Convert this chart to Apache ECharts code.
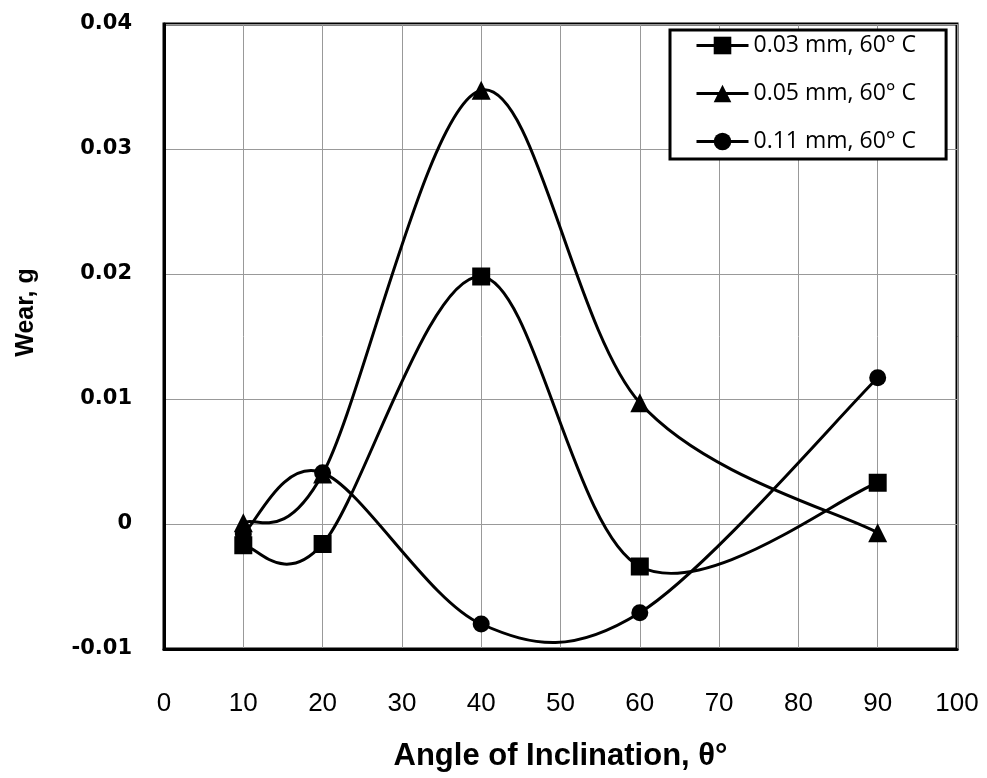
<!DOCTYPE html>
<html>
<head>
<meta charset="utf-8">
<script src="https://cdn.jsdelivr.net/npm/echarts@6/dist/echarts.min.js"></script>
<style>
  html, body { margin: 0; padding: 0; background: #fff; }
  #main { width: 987px; height: 778px; }
</style>
</head>
<body>
<div id="main"></div>
<script>
    var myChart = echarts.init(document.getElementById('main'));

    // 角度 (x)
    var angles = [10, 20, 40, 60, 90];
    // 各系列的磨損量 (g)
    var wear003 = [-0.0017, -0.0016, 0.0198, -0.0034, 0.0033];
    var wear005 = [0.0001, 0.0040, 0.0347, 0.0097, -0.0007];
    var wear011 = [-0.0008, 0.0041, -0.0080, -0.0071, 0.0117];
    var seriesNames = ['0.03 mm, 60° C', '0.05 mm, 60° C', '0.11 mm, 60° C'];
    var symbols = ['rect', 'triangle', 'circle'];
    var symbolSizes = [18, 19, 17];

    var allData = [wear003, wear005, wear011];

    function pairs(ys) {
        return angles.map(function (x, i) { return [x, ys[i]]; });
    }

    // 平滑曲線 (類似 Excel 的 Catmull-Rom)
    function smoothCurve(ys) {
        return function (params, api) {
            if (params.dataIndex !== 0) return null;
            var pts = angles.map(function (x, i) { return api.coord([x, ys[i]]); });
            var children = [];
            for (var i = 0; i < pts.length - 1; i++) {
                var p0 = pts[i > 0 ? i - 1 : i];
                var p1 = pts[i];
                var p2 = pts[i + 1];
                var p3 = pts[i + 2 < pts.length ? i + 2 : i + 1];
                children.push({
                    type: 'bezierCurve',
                    shape: {
                        x1: p1[0], y1: p1[1],
                        x2: p2[0], y2: p2[1],
                        cpx1: p1[0] + (p2[0] - p0[0]) / 6,
                        cpy1: p1[1] + (p2[1] - p0[1]) / 6,
                        cpx2: p2[0] - (p3[0] - p1[0]) / 6,
                        cpy2: p2[1] - (p3[1] - p1[1]) / 6
                    },
                    style: { stroke: '#000', lineWidth: 3, fill: null }
                });
            }
            return { type: 'group', children: children };
        };
    }

    var curveSeries = allData.map(function (ys, i) {
        return {
            name: 'curve' + i,
            type: 'custom',
            data: pairs(ys),
            renderItem: smoothCurve(ys),
            silent: true,
            z: 2
        };
    });

    var markerSeries = seriesNames.map(function (name, i) {
        return {
            name: name,
            type: 'line',
            data: pairs(allData[i]),
            symbol: symbols[i],
            symbolSize: symbolSizes[i],
            lineStyle: { color: '#000', width: 0, opacity: 0 },
            itemStyle: { color: '#000' },
            z: 5 - i
        };
    });

    var option = {
        animation: false,
        backgroundColor: '#fff',
        grid: {
            left: 164,
            right: 30,
            top: 24,
            bottom: 129,
            show: true,
            borderColor: '#000',
            borderWidth: 3
        },
        legend: {
            orient: 'vertical',
            left: 670,
            top: 30,
            backgroundColor: '#fff',
            borderColor: '#000',
            borderWidth: 3,
            padding: [4, 30, 6, 25],
            itemGap: 25,
            itemWidth: 52,
            itemHeight: 22,
            itemTextGap: 3,
            lineStyle: { color: '#000', width: 3, opacity: 1 },
            itemStyle: { color: '#000' },
            textStyle: {
                fontFamily: 'Open Sans',
                fontSize: 23,
                color: '#000'
            },
            data: seriesNames
        },
        xAxis: {
            type: 'value',
            min: 0,
            max: 100,
            interval: 10,
            name: 'Angle of Inclination, θ°',
            nameLocation: 'middle',
            nameGap: 92,
            nameTextStyle: {
                fontFamily: 'Liberation Sans',
                fontWeight: 'bold',
                fontSize: 31,
                color: '#000'
            },
            axisLine: { show: true, onZero: false, lineStyle: { color: '#000', width: 3 } },
            axisTick: { show: false },
            axisLabel: {
                margin: 42,
                fontFamily: 'Liberation Sans',
                fontSize: 26,
                color: '#000'
            },
            splitLine: { show: true, lineStyle: { color: '#999', width: 1 } }
        },
        yAxis: {
            type: 'value',
            min: -0.01,
            max: 0.04,
            interval: 0.01,
            name: 'Wear, g',
            nameLocation: 'middle',
            nameGap: 125,
            nameTextStyle: {
                fontFamily: 'Liberation Sans',
                fontWeight: 'bold',
                fontSize: 25,
                color: '#000',
                padding: [0, 0, 0, 48]
            },
            axisLine: { show: true, onZero: false, lineStyle: { color: '#000', width: 3 } },
            axisTick: { show: false },
            axisLabel: {
                margin: 32,
                fontFamily: 'DejaVu Sans',
                fontWeight: 'bold',
                fontSize: 21,
                color: '#000',
                formatter: function (v) {
                    return String(Math.round(v * 100) / 100);
                }
            },
            splitLine: { show: true, lineStyle: { color: '#999', width: 1 } }
        },
        series: curveSeries.concat(markerSeries)
    };

    myChart.setOption(option);

    window.addEventListener('resize', function () {
        myChart.resize();
    });
</script>
</body>
</html>
